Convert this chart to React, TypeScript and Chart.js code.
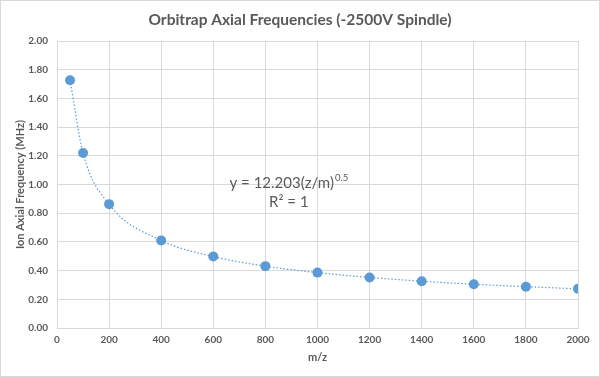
import React, { useEffect, useRef } from "react";
import { Chart, registerables } from "chart.js";

Chart.register(...registerables);

const massToCharge = [50, 100, 200, 400, 600, 800, 1000, 1200, 1400, 1600, 1800, 2000];
const frequencyMHz = [1.726, 1.220, 0.863, 0.610, 0.498, 0.431, 0.386, 0.352, 0.326, 0.305, 0.288, 0.273];
const titleText = "Orbitrap Axial Frequencies (-2500V Spindle)";
const xAxisTitle = "m/z";
const yAxisTitle = "Ion Axial Frequency (MHz)";
const equationText = "y = 12.203(z/m)";
const equationExp = "0.5";
const r2Text = "R² = 1";

const FONT = "Lato, 'Open Sans', sans-serif";
const GRAY = "#595959";
const BLUE = "#5b9bd5";

const extras = {
  id: "extras",
  afterDraw(chart: any) {
    const ctx = chart.ctx;
    const area = chart.chartArea;
    ctx.save();
    ctx.strokeStyle = "#d9d9d9";
    ctx.lineWidth = 1;
    ctx.strokeRect(0.5, 0.5, chart.width - 1, chart.height - 1);
    // chart title
    ctx.fillStyle = GRAY;
    ctx.textBaseline = "middle";
    ctx.textAlign = "center";
    ctx.font = `bold 15.5px ${FONT}`;
    ctx.fillText(titleText, chart.width / 2, 20);
    // equation annotation
    const cx = area.left + (area.right - area.left) * 0.445;
    const cy = area.top + (area.bottom - area.top) * 0.494;
    ctx.font = `15px ${FONT}`;
    const w1 = ctx.measureText(equationText).width;
    ctx.font = `9.5px ${FONT}`;
    const w2 = ctx.measureText(equationExp).width;
    const total = w1 + w2 + 1;
    const x0 = cx - total / 2;
    ctx.textAlign = "left";
    ctx.font = `15px ${FONT}`;
    ctx.fillText(equationText, x0, cy);
    ctx.font = `9.5px ${FONT}`;
    ctx.fillText(equationExp, x0 + w1 + 1, cy - 5);
    ctx.font = `15px ${FONT}`;
    ctx.textAlign = "center";
    ctx.fillText(r2Text, cx, cy + 19);
    ctx.restore();
  },
};

export default function App() {
  const ref = useRef<HTMLCanvasElement>(null);
  useEffect(() => {
    document.body.style.margin = "0";
    const points = massToCharge.map((x, i) => ({ x, y: frequencyMHz[i] }));
    const chart = new Chart(ref.current as HTMLCanvasElement, {
      type: "scatter",
      data: {
        datasets: [
          {
            label: "Data",
            data: points,
            pointRadius: 5,
            pointHoverRadius: 5,
            backgroundColor: BLUE,
            borderColor: BLUE,
            borderWidth: 0,
            order: 1,
          },
          {
            label: "Trendline",
            data: points,
            showLine: true,
            pointRadius: 0,
            borderColor: BLUE,
            borderWidth: 1.2,
            borderDash: [1.5, 2],
            cubicInterpolationMode: "monotone",
            order: 2,
          } as any,
        ],
      },
      plugins: [extras],
      options: {
        animation: false,
        responsive: false,
        maintainAspectRatio: false,
        layout: { padding: { left: 0, right: 22, top: 41, bottom: 0 } },
        plugins: {
          legend: { display: false },
          tooltip: { enabled: false },
          title: { display: false },
        },
        scales: {
          x: {
            type: "linear",
            min: 0,
            max: 2000,
            ticks: {
              stepSize: 200,
              color: GRAY,
              font: { family: FONT, size: 10, weight: "bold" },
              padding: 6,
              maxRotation: 0,
              callback: (v: any) => String(v),
            },
            grid: { color: "#d9d9d9", drawTicks: false },
            border: { color: "#d9d9d9" },
            title: {
              display: true,
              text: xAxisTitle,
              color: GRAY,
              font: { family: FONT, size: 11, weight: "bold" },
              padding: { top: 4, bottom: 13 },
            },
            afterFit: (s: any) => { s.height = 49; },
          },
          y: {
            type: "linear",
            min: 0,
            max: 2,
            ticks: {
              stepSize: 0.2,
              color: GRAY,
              font: { family: FONT, size: 10, weight: "bold" },
              padding: 9,
              callback: (v: any) => Number(v).toFixed(2),
            },
            grid: { color: "#d9d9d9", drawTicks: false },
            border: { display: false },
            title: {
              display: true,
              text: yAxisTitle,
              color: GRAY,
              font: { family: FONT, size: 11, weight: "bold" },
              padding: { top: 14, bottom: 4 },
            },
            afterFit: (s: any) => { s.width = 57; },
          },
        },
      },
    });
    return () => chart.destroy();
  }, []);
  return (
    <div style={{ position: "relative", width: 600, height: 377 }}>
      <canvas ref={ref} width={600} height={377} style={{ display: "block", width: 600, height: 377 }} />
    </div>
  );
}
